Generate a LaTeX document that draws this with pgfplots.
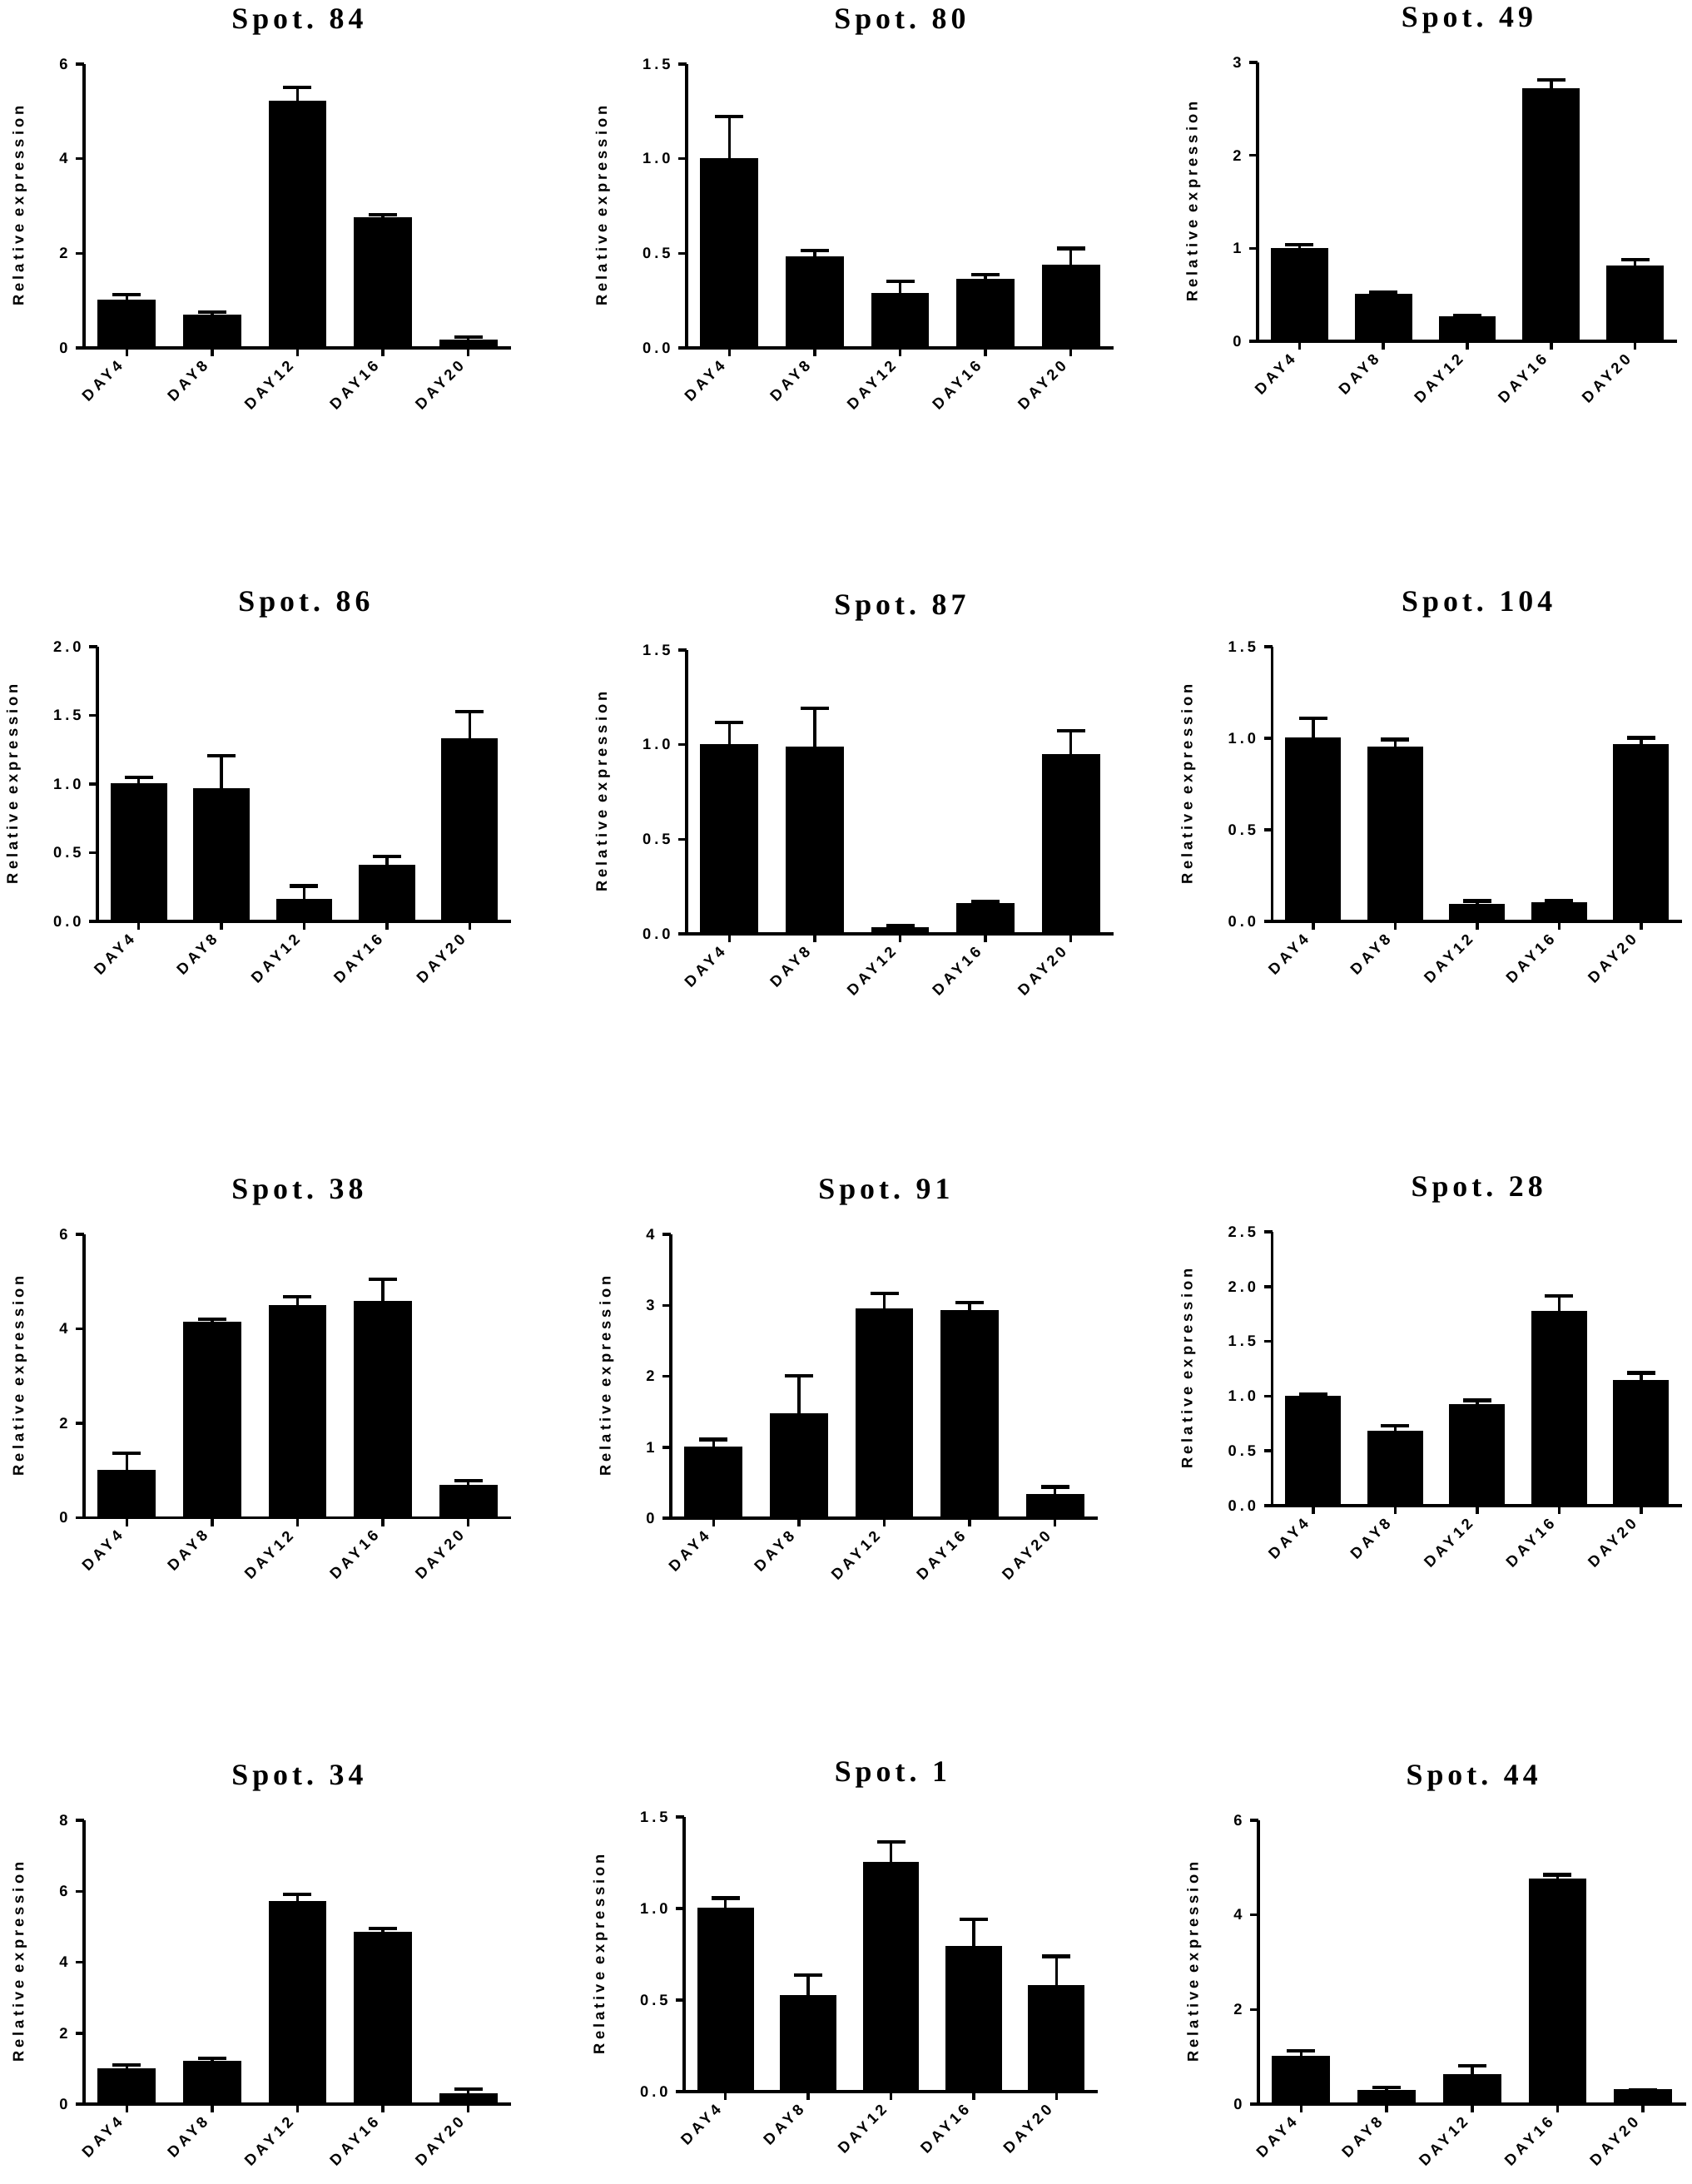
\documentclass[border=0pt]{standalone}
\usepackage{fontspec}
\usepackage{pgfplots}
\usepackage{pgfplotstable}
\pgfplotsset{compat=1.18}
\newfontfamily\lbl{Liberation Sans}[LetterSpace=22]
\newfontfamily\ttl{Liberation Serif}[LetterSpace=14]
\newcommand\lblfont{\lbl\bfseries\fontsize{5.2pt}{6pt}\selectfont}
\newcommand\titlefont{\ttl\bfseries\fontsize{10.2pt}{12pt}\selectfont}

\pgfplotstableread{
x y e
0 1.00 0.12
1 0.69 0.07
2 5.22 0.29
3 2.75 0.07
4 0.17 0.06
}\tA
\pgfplotstableread{
x y e
0 1.00 0.224
1 0.48 0.033
2 0.289 0.063
3 0.363 0.024
4 0.439 0.087
}\tB
\pgfplotstableread{
x y e
0 1.00 0.04
1 0.50 0.03
2 0.26 0.02
3 2.72 0.09
4 0.81 0.07
}\tC
\pgfplotstableread{
x y e
0 1.00 0.048
1 0.965 0.24
2 0.159 0.098
3 0.41 0.065
4 1.331 0.196
}\tD
\pgfplotstableread{
x y e
0 1.00 0.117
1 0.987 0.206
2 0.032 0.011
3 0.158 0.011
4 0.945 0.129
}\tE
\pgfplotstableread{
x y e
0 1.00 0.108
1 0.953 0.04
2 0.092 0.019
3 0.103 0.008
4 0.966 0.036
}\tF
\pgfplotstableread{
x y e
0 1.00 0.36
1 4.13 0.07
2 4.49 0.19
3 4.58 0.47
4 0.68 0.11
}\tG
\pgfplotstableread{
x y e
0 1.00 0.11
1 1.47 0.54
2 2.95 0.22
3 2.93 0.11
4 0.33 0.11
}\tH
\pgfplotstableread{
x y e
0 1.00 0.016
1 0.681 0.046
2 0.92 0.041
3 1.77 0.145
4 1.144 0.068
}\tI
\pgfplotstableread{
x y e
0 1.00 0.10
1 1.20 0.09
2 5.70 0.21
3 4.84 0.12
4 0.28 0.15
}\tJ
\pgfplotstableread{
x y e
0 1.00 0.057
1 0.523 0.114
2 1.253 0.111
3 0.792 0.148
4 0.58 0.159
}\tK
\pgfplotstableread{
x y e
0 1.00 0.12
1 0.28 0.07
2 0.63 0.18
3 4.75 0.10
4 0.30 0.0
}\tL

\pgfplotsset{
 spot/.style={
  anchor=south west, scale only axis,
  xmin=-0.5, xmax=4.5, ymin=0,
  axis x line*=bottom, axis y line*=left,
  axis line style={line width=1pt,black},
  tick align=outside, major tick length=1mm,
  major tick style={line width=1pt, black},
  minor tick num=0,
  xtick={0,1,2,3,4}, xticklabels={DAY4,DAY8,DAY12,DAY16,DAY20},
  xticklabel style={rotate=45, anchor=east, font=\lblfont},
  yticklabel style={font=\lblfont, xshift=0.3mm},
  /pgf/number format/assume math mode=true,
  ylabel={Relative expression},
  ylabel style={font=\lblfont},
  ylabel shift=1.5mm,
  title style={font=\titlefont, at={(axis description cs:0.5,1)}, anchor=base, yshift=2.1mm},
  clip=false,
 },
 dec/.style={yticklabel style={/pgf/number format/fixed, /pgf/number format/fixed zerofill, /pgf/number format/precision=1}},
 int/.style={yticklabel style={/pgf/number format/fixed, /pgf/number format/precision=0}},
}

\newcommand\panel[9]{%
\begin{axis}[spot, #9, at={(#1mm,#2mm)}, width=#3mm, height=#4mm, ymax=#5,
  ytick={0,#6,...,#5}, title={#7}]
\addplot[ybar, bar width=0.667, fill=black, draw=black,
  error bars/.cd, y dir=plus, y explicit,
  error bar style={line width=1pt,black},
  error mark options={rotate=90, line width=1.2pt, mark size=1.7mm, black}]
  table[x=x, y=y, y error=e] {#8};
\end{axis}}

\begin{document}
\begin{tikzpicture}
\path[use as bounding box] (0,0) rectangle (203.2mm,-262.4mm);
\panel{10.1}{-41.8}{51.3}{34.1}{6}{2}{Spot. 84}{\tA}{int}
\panel{82.5}{-41.8}{51.3}{34.1}{1.5}{0.5}{Spot. 80}{\tB}{dec}
\panel{151.1}{-41.0}{50.4}{33.5}{3}{1}{Spot. 49}{\tC}{int}
\panel{11.7}{-110.7}{49.7}{33.0}{2.0}{0.5}{Spot. 86}{\tD}{dec}
\panel{82.5}{-112.2}{51.3}{34.1}{1.5}{0.5}{Spot. 87}{\tE}{dec}
\panel{152.85}{-110.7}{49.25}{33.0}{1.5}{0.5}{Spot. 104}{\tF}{dec}
\panel{10.1}{-182.35}{51.3}{34.05}{6}{2}{Spot. 38}{\tG}{int}
\panel{80.6}{-182.4}{51.3}{34.1}{4}{1}{Spot. 91}{\tH}{int}
\panel{152.85}{-180.9}{49.25}{32.9}{2.5}{0.5}{Spot. 28}{\tI}{dec}
\panel{10.1}{-252.8}{51.3}{34.1}{8}{2}{Spot. 34}{\tJ}{int}
\panel{82.2}{-251.3}{49.7}{33.0}{1.5}{0.5}{Spot. 1}{\tK}{dec}
\panel{151.2}{-252.8}{51.35}{34.1}{6}{2}{Spot. 44}{\tL}{int}
\end{tikzpicture}
\end{document}
